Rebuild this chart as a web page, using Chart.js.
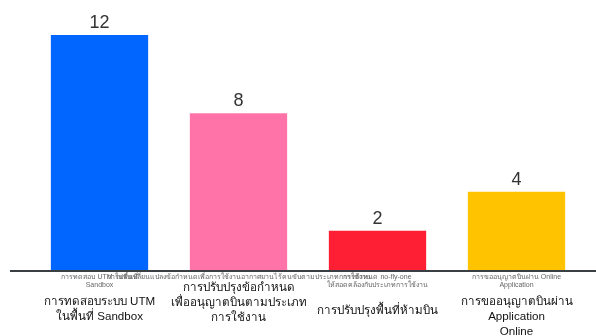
<!DOCTYPE html>
<html>
<head>
<meta charset="utf-8">
<script src="https://cdn.jsdelivr.net/npm/chart.js@4/dist/chart.umd.min.js"></script>
<style>
  html, body { margin: 0; padding: 0; background: #fff; }
  #wrap { width: 596px; height: 336px; }
</style>
</head>
<body>
<div id="wrap"><canvas id="myChart"></canvas></div>
<script>
// tick labels (small, under the axis)
const categories = [
    ['การทดสอบ UTM ในพื้นที่', 'Sandbox'],
    ['การปรับเปลี่ยนแปลงข้อกำหนดเพื่อการใช้งานอากาศยานไร้คนขับตามประเภทการใช้งาน'],
    ['การกำหนด no-fly-one', 'ให้สอดคล้องกับประเภทการใช้งาน'],
    ['การขออนุญาตบินผ่าน Online', 'Application']
];
const values = [12, 8, 2, 4];
// bigger captions drawn below the ticks
const captions = [
    ['การทดสอบระบบ UTM', 'ในพื้นที่ Sandbox'],
    ['การปรับปรุงข้อกำหนด', 'เพื่ออนุญาตบินตามประเภท', 'การใช้งาน'],
    ['การปรับปรุงพื้นที่ห้ามบิน'],
    ['การขออนุญาตบินผ่าน', 'Application', 'Online']
];
const barColors = ['#0066ff', '#ff73a8', '#ff1f35', '#ffc300'];

const captionTop = [302, 288, 311, 302];

const extras = {
    id: 'extras',
    afterDatasetsDraw(chart) {
        const ctx = chart.ctx;
        const meta = chart.getDatasetMeta(0);
        const area = chart.chartArea;
        ctx.save();

        // axis line
        ctx.strokeStyle = '#3a3f44';
        ctx.lineWidth = 2;
        ctx.beginPath();
        ctx.moveTo(10, area.bottom + 1);
        ctx.lineTo(chart.width, area.bottom + 1);
        ctx.stroke();

        // value labels
        ctx.fillStyle = '#333';
        ctx.font = '18px "Liberation Sans", Arial, sans-serif';
        ctx.textAlign = 'center';
        ctx.textBaseline = 'bottom';
        meta.data.forEach((bar, i) => {
            ctx.fillText(String(values[i]), bar.x, bar.y - 3);
        });

        // captions
        ctx.fillStyle = '#111';
        ctx.font = '11.6px "Liberation Sans", Arial, sans-serif';
        ctx.textBaseline = 'middle';
        meta.data.forEach((bar, i) => {
            captions[i].forEach((line, j) => {
                ctx.fillText(line, bar.x, captionTop[i] + j * 15);
            });
        });
        ctx.restore();
    }
};

const chart = new Chart(document.getElementById('myChart'), {
    type: 'bar',
    data: {
        labels: categories,
        datasets: [{
            data: values,
            backgroundColor: barColors,
            borderWidth: 0,
            barPercentage: 0.7,
            categoryPercentage: 1
        }]
    },
    options: {
        responsive: true,
        maintainAspectRatio: false,
        animation: false,
        layout: { padding: { top: 35, left: 30, right: 10, bottom: 0 } },
        plugins: {
            legend: { display: false },
            tooltip: { enabled: false }
        },
        scales: {
            x: {
                grid: { display: false, drawTicks: false },
                border: { display: false },
                afterFit: (axis) => { axis.height = 66; },
                ticks: {
                    autoSkip: false,
                    maxRotation: 0,
                    minRotation: 0,
                    padding: 3,
                    color: '#666',
                    font: { family: '"Liberation Sans", Arial, sans-serif', size: 7, lineHeight: 1.15 }
                }
            },
            y: {
                display: false,
                min: 0,
                max: 12
            }
        }
    },
    plugins: [extras]
});
</script>
</body>
</html>
